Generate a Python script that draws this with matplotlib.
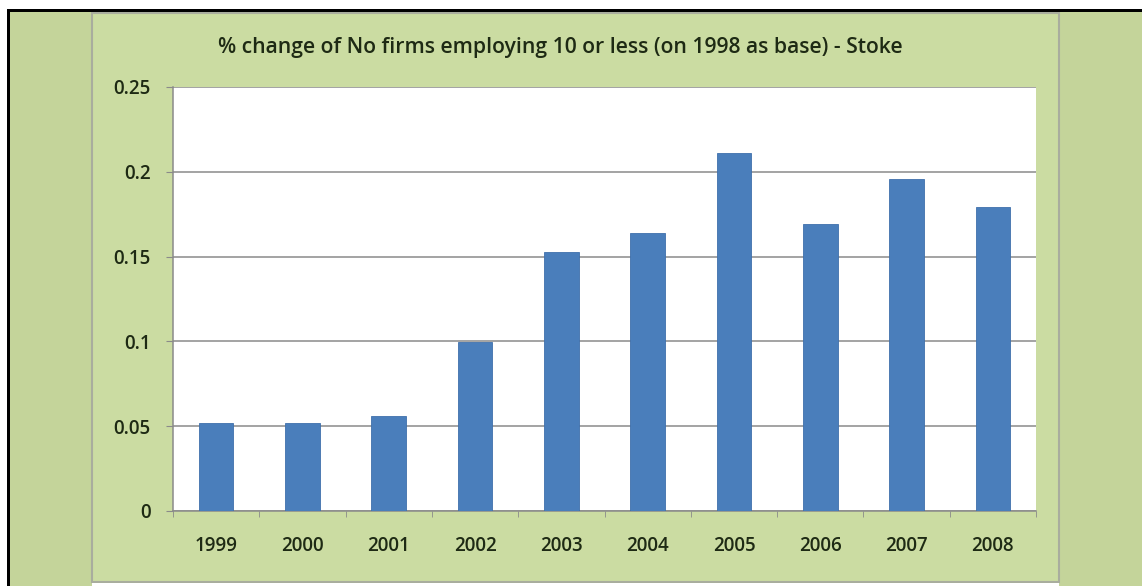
import numpy as np
import matplotlib.pyplot as plt
from matplotlib.patches import Rectangle

# % change in number of firms employing 10 or less, 1998 = base
years = ['1999', '2000', '2001', '2002', '2003', '2004', '2005', '2006', '2007', '2008']
change = [0.0516, 0.0516, 0.0563, 0.0998, 0.1528, 0.1641, 0.2110, 0.1694, 0.1955, 0.1790]
yticks = [0, 0.05, 0.1, 0.15, 0.2, 0.25]
ylabels = ['0', '0.05', '0.1', '0.15', '0.2', '0.25']

W, H = 1142, 586
fig = plt.figure(figsize=(W / 100, H / 100), dpi=100, facecolor='white')

def px(x0, y0, x1, y1):
    # pixel box (top-left origin) -> figure fraction rect
    return (x0 / W, 1 - y1 / H), (x1 - x0) / W, (y1 - y0) / H

outer_green = '#c4d49a'
inner_green = '#cbdca2'

xy, w, h = px(9, 12, W, H)
fig.patches.append(Rectangle(xy, w, h, transform=fig.transFigure, facecolor=outer_green, edgecolor='none', zorder=0))
xy, w, h = px(92, 13, 1059, 582)
fig.patches.append(Rectangle(xy, w, h, transform=fig.transFigure, facecolor=inner_green, edgecolor='#a9ad9e', lw=1.5, zorder=1))
xy, w, h = px(92, 583, 1059, H)
fig.patches.append(Rectangle(xy, w, h, transform=fig.transFigure, facecolor='white', edgecolor='none', zorder=1))
# black frame lines
xy, w, h = px(7, 9, W, 12)
fig.patches.append(Rectangle(xy, w, h, transform=fig.transFigure, facecolor='black', edgecolor='none', zorder=2))
xy, w, h = px(7, 9, 9.5, H)
fig.patches.append(Rectangle(xy, w, h, transform=fig.transFigure, facecolor='black', edgecolor='none', zorder=2))

ax = fig.add_axes([173 / W, 1 - 511 / H, (1036 - 173) / W, (511 - 87) / H])
ax.set_zorder(5)
ax.set_facecolor('white')
x = np.arange(len(years))
ax.bar(x, change, width=0.4, color='#4a7ebb', edgecolor='#3f70ac', lw=0.6, zorder=3)

ax.set_xlim(-0.5, len(years) - 0.5)
ax.set_ylim(0, 0.25)
ax.set_yticks(yticks)
ax.set_yticklabels(ylabels)
ax.set_xticks(x)
ax.set_xticklabels(years)
ax.grid(axis='y', color='#8a8a8a', lw=1.1, zorder=1)
ax.set_axisbelow(True)

for s in ['top', 'right']:
    ax.spines[s].set_visible(False)
ax.spines['left'].set_color('#8a8a8a')
ax.spines['bottom'].set_color('#8a8a8a')
ax.spines['left'].set_linewidth(1.1)
ax.spines['bottom'].set_linewidth(1.1)
ax.tick_params(axis='y', length=5, color='#8a8a8a', pad=11, labelsize=13.5, labelcolor='#1e2a14')
ax.tick_params(axis='x', length=0, pad=18, labelsize=13.5, labelcolor='#1e2a14')
for lbl in ax.get_xticklabels() + ax.get_yticklabels():
    lbl.set_fontfamily('Open Sans')
    lbl.set_fontweight('semibold')
# small minor ticks between categories
ax.set_xticks(np.arange(-0.5, len(years)), minor=True)
ax.tick_params(axis='x', which='minor', length=4, color='#8a8a8a')

fig.text(560 / W, 1 - 48 / H, '% change of No firms employing 10 or less (on 1998 as base) - Stoke',
         ha='center', va='center', fontsize=15.2, fontfamily='Open Sans', fontweight='semibold', color='#1e2a14')

fig.savefig('out.png', dpi=100, facecolor='white')
